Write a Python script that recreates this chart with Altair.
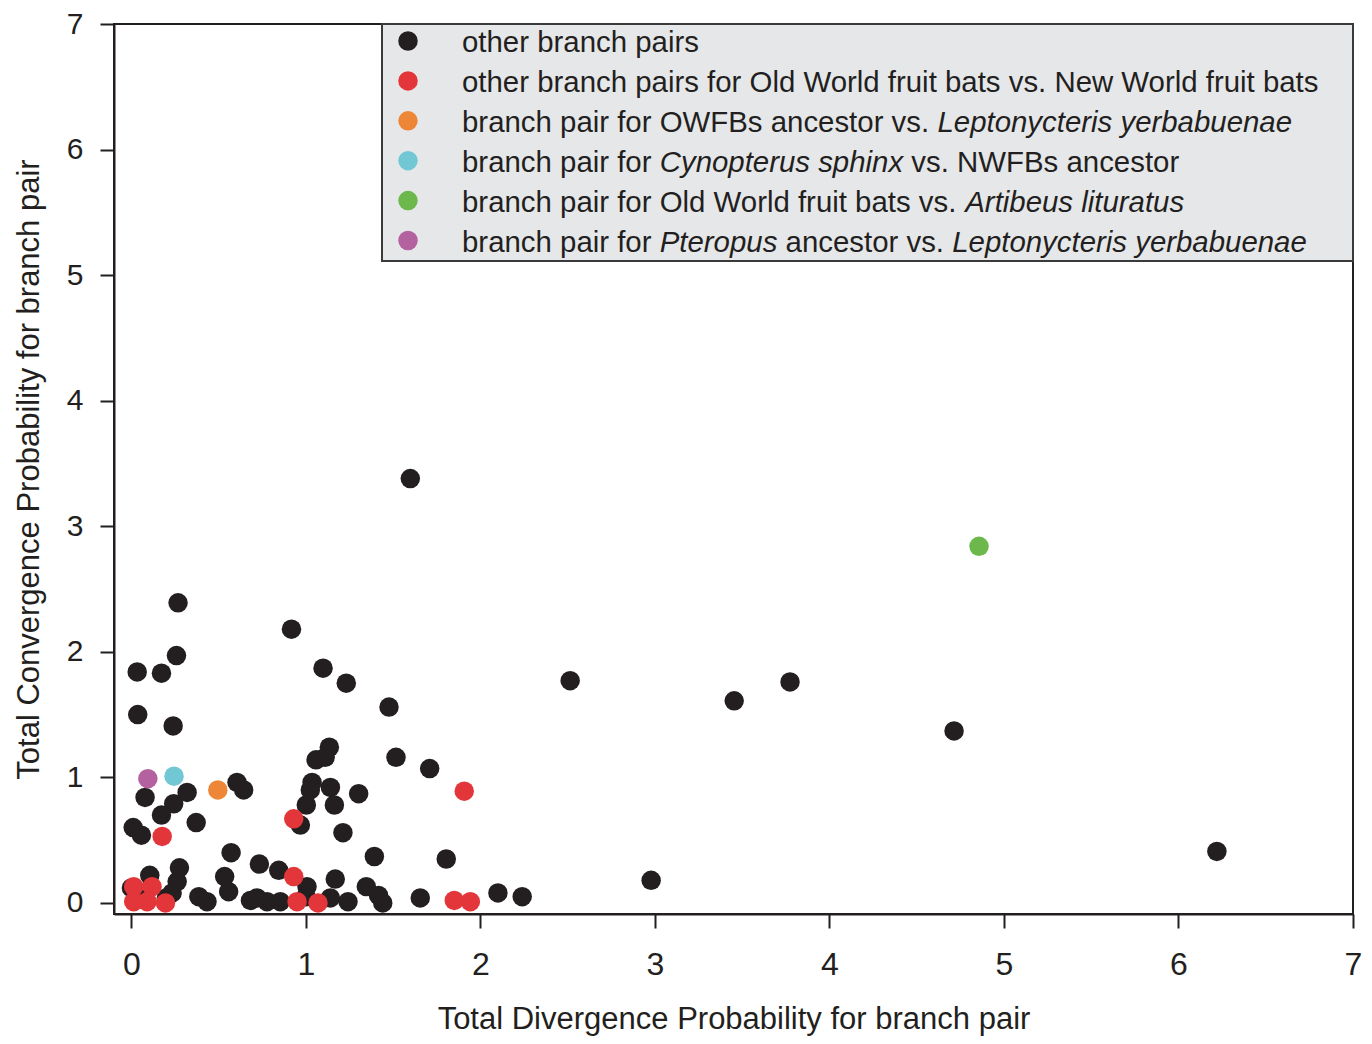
import altair as alt
import pandas as pd

# ---------------- data ----------------
black_x = [1.598, 0.267, 0.917, 0.258, 0.033, 0.172, 1.098, 1.231, 0.036, 0.239,
           1.134, 1.058, 1.110, 0.319, 0.078, 0.605, 0.643, 1.035, 1.025, 1.140,
           1.302, 0.242, 0.172, 1.002, 1.163, 0.371, 0.010, 0.057, 0.968, 1.212,
           1.392, 0.571, 0.733, 0.844, 0.275, 0.262, 0.105, 0.534, 0.557, 1.168,
           1.006, 1.346, 0.386, 0.433, 0.682, 0.777, 0.853, 1.140, 1.241, 1.416,
           1.440, 1.655, 2.100, 2.239, 1.476, 1.516, 1.709, 1.804, 2.514, 2.978,
           3.454, 3.774, 4.714, 6.220, 0.000, 0.233, 0.200, 1.000, 0.060, 0.720]
black_y = [3.38, 2.39, 2.18, 1.97, 1.84, 1.83, 1.87, 1.75, 1.50, 1.41,
           1.24, 1.14, 1.16, 0.88, 0.84, 0.96, 0.90, 0.96, 0.90, 0.92,
           0.87, 0.79, 0.70, 0.78, 0.78, 0.64, 0.60, 0.54, 0.62, 0.56,
           0.37, 0.40, 0.31, 0.26, 0.28, 0.17, 0.22, 0.21, 0.09, 0.19,
           0.13, 0.13, 0.05, 0.01, 0.02, 0.01, 0.01, 0.04, 0.01, 0.06,
           0.00, 0.04, 0.08, 0.05, 1.56, 1.16, 1.07, 0.35, 1.77, 0.18,
           1.61, 1.76, 1.37, 0.41, 0.12, 0.08, 0.04, 0.05, 0.03, 0.04]

red_x = [0.013, 0.118, 0.013, 0.090, 0.195, 0.176, 0.930, 0.930, 0.949, 1.069, 1.907, 1.850, 1.942]
red_y = [0.13, 0.13, 0.01, 0.01, 0.00, 0.53, 0.67, 0.21, 0.01, 0.00, 0.89, 0.02, 0.01]

orange_x, orange_y = [0.495], [0.90]
cyan_x, cyan_y = [0.244], [1.01]
green_x, green_y = [4.857], [2.84]
purple_x, purple_y = [0.094], [0.99]

categories = [
    "other branch pairs",
    "other branch pairs for Old World fruit bats vs. New World fruit bats",
    "branch pair for OWFBs ancestor vs. Leptonycteris yerbabuenae",
    "branch pair for Cynopterus sphinx vs. NWFBs ancestor",
    "branch pair for Old World fruit bats vs. Artibeus lituratus",
    "branch pair for Pteropus ancestor vs. Leptonycteris yerbabuenae",
]
colors = ["#231f20", "#e3363a", "#ee8637", "#72c7d4", "#6cb84c", "#b461a0"]

# legend label segments: (row, text, italic)
legend_segments = [
    (0, "other branch pairs", False),
    (1, "other branch pairs for Old World fruit bats vs. New World fruit bats", False),
    (2, "branch pair for OWFBs ancestor vs. ", False),
    (2, "Leptonycteris yerbabuenae", True),
    (3, "branch pair for ", False),
    (3, "Cynopterus sphinx", True),
    (3, " vs. NWFBs ancestor", False),
    (4, "branch pair for Old World fruit bats vs. ", False),
    (4, "Artibeus lituratus", True),
    (5, "branch pair for ", False),
    (5, "Pteropus", True),
    (5, " ancestor vs. ", False),
    (5, "Leptonycteris yerbabuenae", True),
]

# ---------------- build tables ----------------
series = [(black_x, black_y), (red_x, red_y), (orange_x, orange_y),
          (cyan_x, cyan_y), (green_x, green_y), (purple_x, purple_y)]
rows = []
for cat, (xs, ys) in zip(categories, series):
    for xv, yv in zip(xs, ys):
        rows.append({"div": xv, "conv": yv, "cat": cat})
points = pd.DataFrame(rows)

# Arial / Liberation Sans advance widths (1/1000 em) for offset of rich-text segments
W = {" ": 278, ".": 278, "a": 556, "b": 556, "c": 500, "d": 556, "e": 556, "f": 278,
     "g": 556, "h": 556, "i": 222, "j": 222, "k": 500, "l": 222, "m": 833, "n": 556,
     "o": 556, "p": 556, "q": 556, "r": 333, "s": 500, "t": 278, "u": 556, "v": 500,
     "w": 722, "x": 500, "y": 500, "z": 500, "A": 667, "B": 667, "C": 722, "D": 722,
     "E": 667, "F": 611, "L": 556, "N": 722, "O": 778, "P": 667, "S": 667, "T": 611,
     "W": 944}
LEG_FS = 29.4


def text_width(s):
    return sum(W.get(ch, 556) for ch in s) * LEG_FS / 1000.0


seg_rows = []
offsets = {}
for r, txt, it in legend_segments:
    off = offsets.get(r, 0.0)
    offsets[r] = off + text_width(txt)
    stripped = txt.lstrip(" ")
    off += text_width(txt[: len(txt) - len(stripped)])  # SVG drops leading spaces
    seg_rows.append({"row": r, "text": stripped, "italic": it, "off": off})
segs = pd.DataFrame(seg_rows)
leg_rows = pd.DataFrame({"row": list(range(len(categories))), "cat": categories})

# ---------------- chart ----------------
PLOT_W, PLOT_H = 1239, 890
INK = "#231f20"
FONT = "Liberation Sans"

color_scale = alt.Scale(domain=categories, range=colors)

scatter = alt.Chart(points).mark_circle(size=380, opacity=1).encode(
    x=alt.X("div:Q", scale=alt.Scale(domain=[-0.1, 7], nice=False, zero=False),
            axis=alt.Axis(values=list(range(8)), title="Total Divergence Probability for branch pair",
                          format="d", labelPadding=21, titlePadding=24, labelFlush=False)),
    y=alt.Y("conv:Q", scale=alt.Scale(domain=[-0.088, 7], nice=False, zero=False),
            axis=alt.Axis(values=list(range(8)), title="Total Convergence Probability for branch pair",
                          format="d", labelPadding=17, titlePadding=21, labelFlush=False,
                          labelFontSize=30)),
    color=alt.Color("cat:N", scale=color_scale, legend=None),
)

legend_box = alt.Chart(alt.Data(values=[{"a": 1}])).mark_rect(
    fill="#e6e7e9", stroke="#3a3a3a", strokeWidth=2
).encode(
    x=alt.value(268), x2=alt.value(PLOT_W), y=alt.value(0), y2=alt.value(237)
)

legend_sym = alt.Chart(leg_rows).transform_calculate(
    py="17 + 39.9 * datum.row"
).mark_circle(size=380, opacity=1).encode(
    x=alt.value(294),
    y=alt.Y("py:Q", scale=None, axis=None),
    color=alt.Color("cat:N", scale=color_scale, legend=None),
)


def seg_layer(italic):
    return alt.Chart(segs).transform_filter(
        alt.datum.italic == italic
    ).transform_calculate(
        px="348 + datum.off", py="17 + 39.9 * datum.row + 11"
    ).mark_text(
        align="left", baseline="alphabetic", font=FONT, fontSize=LEG_FS,
        fontStyle="italic" if italic else "normal", color=INK
    ).encode(
        x=alt.X("px:Q", scale=None, axis=None),
        y=alt.Y("py:Q", scale=None, axis=None),
        text="text:N",
    )


chart = alt.layer(
    scatter, legend_box, legend_sym, seg_layer(False), seg_layer(True)
).resolve_scale(
    x="independent", y="independent"
).properties(
    width=PLOT_W, height=PLOT_H,
    autosize=alt.AutoSizeParams(type="none"),
    padding={"left": 106, "top": 16, "right": 11, "bottom": 122},
).configure_view(
    stroke=INK, strokeWidth=2
).configure_axis(
    grid=False, domainColor=INK, domainWidth=2, tickColor=INK, tickWidth=2, tickSize=14,
    labelFont=FONT, labelFontSize=32, labelColor=INK,
    titleFont=FONT, titleFontSize=31, titleFontWeight="normal", titleColor=INK,
)

chart.save("out.html", embed_options={"renderer": "svg", "actions": False})
